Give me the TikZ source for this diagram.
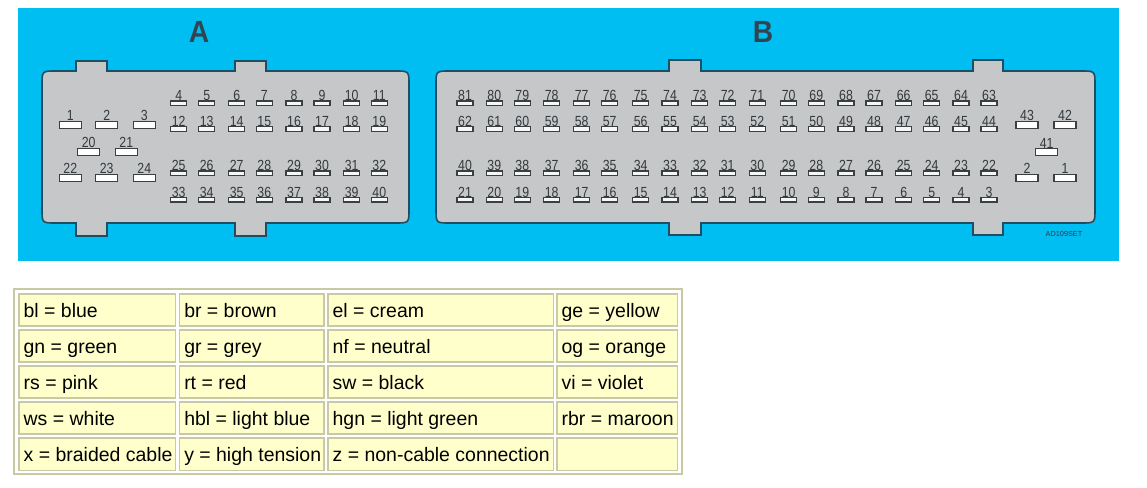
\documentclass[tikz,border=0pt]{standalone}
\usepackage{fontspec}
\setmainfont{Liberation Sans}
\newfontfamily\narrowfont[FakeStretch=.84]{Liberation Sans}
\newfontfamily\titlefont[FakeStretch=.92]{Liberation Sans}
\usetikzlibrary{positioning}
\definecolor{panelblue}{HTML}{00BDF2}
\definecolor{shellgrey}{HTML}{C6C7C9}
\definecolor{shelledge}{HTML}{1F4E63}
\definecolor{pinedge}{HTML}{3A3F42}
\definecolor{inkgrey}{HTML}{34393C}
\definecolor{titleink}{HTML}{2F4652}
\definecolor{cellfill}{HTML}{FFFFCC}
\definecolor{celledge}{HTML}{C9C9A6}
\tikzset{
  shell/.style={draw=shelledge, fill=shellgrey, line width=1.2pt},
  smallpin/.style={draw=pinedge, fill=white!85!shellgrey, line width=.9pt, minimum width=12pt, minimum height=3.4pt, inner sep=0pt, outer sep=0pt},
  bigpin/.style={draw=pinedge, fill=white, line width=.9pt, minimum width=16.4pt, minimum height=5.2pt, inner sep=0pt, outer sep=0pt},
  pinlabel/.style={font=\narrowfont\fontsize{11}{11}\selectfont, text=inkgrey, inner sep=0pt, outer sep=0pt},
  cell/.style={draw=celledge, fill=cellfill, line width=1pt, inner sep=0pt, anchor=north west},
  celltext/.style={font=\fontsize{14.6}{16}\selectfont, text=black, inner sep=0pt, anchor=base west},
  title/.style={font=\titlefont\fontsize{23}{23}\selectfont\bfseries, text=titleink, inner sep=0pt}
}
\begin{document}
\begin{tikzpicture}[x=.75pt, y=-.75pt]
  \useasboundingbox (0, 0) rectangle (1147, 488);
  \fill[white] (0, 0) rectangle (1147, 488);
  \fill[panelblue] (18, 8) rectangle (1119, 261);

  \node[title] (titleA) at (199, 32) {A};
  \node[title] (titleB) at (763, 32) {B};

  % connector A
  \draw[shell] (56, 71) -- (76, 71) -- (76, 61) -- (107, 61) -- (107, 71) -- (235, 71) -- (235, 61) -- (266, 61) -- (266, 71)
    -- (395, 71) .. controls (409, 71) .. (409, 85) -- (409, 209) .. controls (409, 223) .. (395, 223)
    -- (266, 223) -- (266, 236) -- (235, 236) -- (235, 223) -- (107, 223) -- (107, 236) -- (76, 236) -- (76, 223)
    -- (56, 223) .. controls (42, 223) .. (42, 209) -- (42, 85) .. controls (42, 71) .. (56, 71) -- cycle;

  % connector B
  \draw[shell] (450, 71) -- (669, 71) -- (669, 60) -- (701, 60) -- (701, 71) -- (973, 71) -- (973, 60) -- (1003, 60) -- (1003, 71)
    -- (1081, 71) .. controls (1095, 71) .. (1095, 85) -- (1095, 209) .. controls (1095, 223) .. (1081, 223)
    -- (1003, 223) -- (1003, 235) -- (973, 235) -- (973, 223) -- (701, 223) -- (701, 235) -- (669, 235) -- (669, 223)
    -- (450, 223) .. controls (436, 223) .. (436, 209) -- (436, 85) .. controls (436, 71) .. (450, 71) -- cycle;

  % small pins of A
  \foreach \pinx/\up/\upb/\low/\lowb in {178.7/4/12/25/33, 206.7/5/13/26/34, 236.7/6/14/27/35, 264.3/7/15/28/36,
      294/8/16/29/37, 322/9/17/30/38, 351.7/10/18/31/39, 379.3/11/19/32/40} {
    \foreach \piny/\num in {103.3/\up, 129/\upb, 173.3/\low, 199.7/\lowb} {
      \node[smallpin] (a\num) at (\pinx, \piny) {};
      \node[pinlabel, above=.2pt of a\num] (la\num) {\num};
    }
  }

  % big pins of A
  \foreach \pinx/\piny/\num in {70.3/124.7/1, 106.7/124.7/2, 144.3/124.7/3, 88.7/151.7/20, 126.3/151.7/21,
      70.3/177.7/22, 106.7/177.7/23, 144.3/177.7/24} {
    \node[bigpin] (a\num) at (\pinx, \piny) {};
    \node[pinlabel, above=.2pt of a\num] (la\num) {\num};
  }

  % small pins of B
  \foreach \pinx/\up/\upb/\low/\lowb in {465/81/62/40/21, 494.3/80/61/39/20, 522.3/79/60/38/19, 551.7/78/59/37/18,
      581.7/77/58/36/17, 609.7/76/57/35/16, 640.7/75/56/34/15, 670/74/55/33/14, 699.7/73/54/32/13, 727.7/72/53/31/12,
      757.3/71/52/30/11, 788.7/70/51/29/10, 816.3/69/50/28/9, 846/68/49/27/8, 874/67/48/26/7, 903.7/66/47/25/6,
      931.7/65/46/24/5, 961/64/45/23/4, 989/63/44/22/3} {
    \foreach \piny/\num in {103.3/\up, 129/\upb, 173.3/\low, 199.7/\lowb} {
      \node[smallpin] (b\num) at (\pinx, \piny) {};
      \node[pinlabel, above=.2pt of b\num] (lb\num) {\num};
    }
  }

  % big pins of B
  \foreach \pinx/\piny/\num in {1027/124.7/43, 1065/124.7/42, 1046.7/152/41, 1027/177.7/2, 1065/177.7/1} {
    \node[bigpin] (b\num) at (\pinx, \piny) {};
    \node[pinlabel, above=.2pt of b\num] (lb\num) {\num};
  }

  \node[font=\fontsize{5.5}{6}\selectfont, text=inkgrey, inner sep=0pt] (partno) at (1064, 234) {AD109SET};

  % colour table
  \draw[celledge, line width=1pt, fill=white!96!cellfill] (14, 289) rectangle (682, 474);
  \foreach \rowtop/\rowh [count=\r] in {293.3/32, 329.3/32, 365.3/32, 401.3/32, 437.3/32.7} {
    \foreach \colleft/\colw [count=\c] in {18.3/156.7, 179/144.3, 327.3/225.4, 556.3/120.4} {
      \node[cell, minimum width=\colw*.75pt, minimum height=\rowh*.75pt] (c\r\c) at (\colleft, \rowtop) {};
    }
  }
  \foreach \textx/\r/\c/\txt in {
      23.4/1/1/{bl = blue}, 184/1/2/{br = brown}, 332.4/1/3/{el = cream}, 561.4/1/4/{ge = yellow},
      23.4/2/1/{gn = green}, 184/2/2/{gr = grey}, 332.4/2/3/{nf = neutral}, 561.4/2/4/{og = orange},
      23.4/3/1/{rs = pink}, 184/3/2/{rt = red}, 332.4/3/3/{sw = black}, 561.4/3/4/{vi = violet},
      23.4/4/1/{ws = white}, 184/4/2/{hbl = light blue}, 332.4/4/3/{hgn = light green}, 561.4/4/4/{rbr = maroon},
      23.4/5/1/{x = braided cable}, 184/5/2/{y = high tension}, 332.4/5/3/{z = non-cable connection}} {
    \node[celltext] (t\r\c) at (\textx, 318+36*\r-36) {\txt};
  }
\end{tikzpicture}
\end{document}
